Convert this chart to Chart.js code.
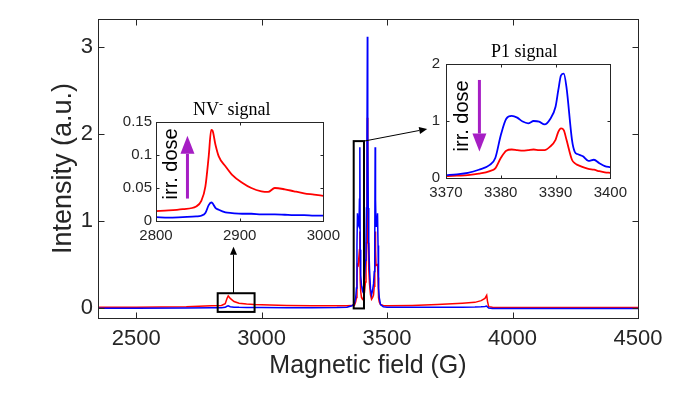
<!DOCTYPE html>
<html>
<head>
<meta charset="utf-8">
<title>EPR spectra</title>
<script src="https://cdn.jsdelivr.net/npm/chart.js@4.4.1/dist/chart.umd.min.js"></script>
<style>
  body { margin: 0; background: #fff; }
  #wrap { position: relative; width: 692px; height: 395px; overflow: hidden; }
  canvas { position: absolute; }
  #mainChart { left: 0; top: 0; }
  #nvChart { left: 96px; top: 92px; }
  #p1Chart { left: 386px; top: 34px; }
</style>
</head>
<body>
<div id="wrap">
  <canvas id="mainChart" width="692" height="395"></canvas>
  <canvas id="nvChart" width="250" height="160"></canvas>
  <canvas id="p1Chart" width="247" height="170"></canvas>
</div>
<script>
// ---------------------------------- { Data : full spectrum }
const fieldTicks = [2500, 3000, 3500, 4000, 4500];
const intensityTicks = [0, 1, 2, 3];
const mainField = [2348, 2500, 2700, 2800, 2840, 2855, 2862, 2867, 2875, 2890, 2910, 2940, 2970, 3000,
  3100, 3200, 3300, 3340, 3360, 3370, 3375, 3378, 3380, 3382, 3385, 3388, 3390, 3391.5, 3393, 3395,
  3398, 3402, 3406, 3410, 3414, 3416, 3418, 3420, 3421.5, 3423, 3425, 3427, 3430, 3434, 3438, 3442,
  3446, 3449, 3451, 3452.5, 3454, 3456, 3459, 3462, 3464, 3466, 3469, 3474, 3485, 3500, 3600, 3700,
  3800, 3850, 3875, 3890, 3897, 3900, 3905, 3920, 4000, 4200, 4500];
const mainRed = [0.01, 0.01, 0.015, 0.025, 0.03, 0.05, 0.11, 0.14, 0.11, 0.075, 0.055, 0.045, 0.04, 0.037,
  0.03, 0.025, 0.025, 0.025, 0.028, 0.03, 0.07, 0.12, 0.35, 0.5, 0.49, 0.49, 0.67, 0.88, 0.32, 0.19,
  0.12, 0.1, 0.12, 0.18, 0.3, 0.45, 0.75, 1.4, 2.19, 1.4, 0.75, 0.45, 0.28, 0.15, 0.1, 0.12,
  0.15, 0.25, 0.4, 0.88, 0.67, 0.49, 0.49, 0.5, 0.35, 0.12, 0.07, 0.04, 0.03, 0.025, 0.03, 0.04,
  0.055, 0.065, 0.085, 0.11, 0.146, 0.08, 0.015, 0.008, 0.006, 0.005, 0.005];
const mainBlue = [-0.003, -0.002, 0.0, 0.003, 0.004, 0.008, 0.02, 0.025, 0.015, 0.01, 0.008, 0.007, 0.006, 0.005,
  0.004, 0.004, 0.005, 0.01, 0.025, 0.05, 0.12, 0.23, 0.72, 1.09, 0.96, 0.94, 1.25, 1.85, 0.67, 0.38,
  0.26, 0.2, 0.24, 0.35, 0.55, 0.75, 1.15, 2.0, 3.12, 2.0, 1.15, 0.75, 0.45, 0.22, 0.15, 0.2,
  0.28, 0.42, 0.8, 1.85, 1.25, 0.94, 0.96, 1.09, 0.72, 0.23, 0.12, 0.04, 0.015, 0.01, 0.008, 0.008,
  0.01, 0.012, 0.015, 0.018, 0.022, 0.012, 0.0, -0.005, -0.005, -0.005, -0.006];

// ---------------------------------- { Data : NV- inset }
const nvFieldTicks = [2800, 2900, 3000];
const nvIntTicks = [0, 0.05, 0.1, 0.15];
const nvField = [2800, 2815, 2832, 2848, 2854, 2859, 2863, 2866, 2867.5, 2871, 2875, 2883, 2891, 2903,
  2914, 2926, 2934, 2942, 2954, 2965, 2977, 2989, 3000];
const nvRed = [0.015, 0.016, 0.018, 0.022, 0.03, 0.052, 0.098, 0.138, 0.137, 0.116, 0.098, 0.083, 0.07, 0.058,
  0.05, 0.045, 0.044, 0.05, 0.048, 0.045, 0.042, 0.04, 0.038];
const nvBlue = [0.006, 0.005, 0.006, 0.007, 0.008, 0.012, 0.024, 0.028, 0.027, 0.02, 0.017, 0.013, 0.012, 0.011,
  0.011, 0.01, 0.01, 0.01, 0.0095, 0.009, 0.009, 0.008, 0.008];

// ---------------------------------- { Data : P1 inset }
const p1FieldTicks = [3370, 3380, 3390, 3400];
const p1IntTicks = [0, 1, 2];
const p1Field = [3370, 3372, 3374, 3376, 3378, 3379, 3380, 3381, 3382, 3383, 3384, 3385, 3386, 3387, 3388,
  3389, 3390, 3390.5, 3391, 3391.5, 3392, 3393, 3393.5, 3394, 3395, 3396, 3397, 3398, 3399, 3400];
const p1Red = [0.03, 0.04, 0.05, 0.075, 0.12, 0.17, 0.35, 0.48, 0.5, 0.49, 0.48, 0.49, 0.5, 0.49, 0.49,
  0.55, 0.67, 0.81, 0.87, 0.84, 0.67, 0.32, 0.26, 0.23, 0.19, 0.16, 0.145, 0.12, 0.1, 0.09];
const p1Blue = [0.05, 0.065, 0.09, 0.145, 0.23, 0.35, 0.75, 1.04, 1.09, 1.06, 0.99, 0.96, 1.0, 0.99, 0.94,
  1.03, 1.25, 1.54, 1.8, 1.83, 1.59, 0.67, 0.46, 0.42, 0.38, 0.3, 0.32, 0.26, 0.21, 0.19];

// zoom boxes / pointers, in field (G) and intensity units
const nvBoxField = [2825, 2972];
const nvBoxInt = [-0.045, 0.17];
const p1BoxField = [3367, 3408];
const p1BoxInt = [-0.005, 1.92];
const nvPointerField = [2888, 2888];
const nvPointerInt = [0.17, 0.705];
const p1PointerField = [3408, 3660];
const p1PointerInt = [1.92, 2.06];
// "irr. dose" arrows (tail -> tip) and label centres, in inset units
const nvDoseField = [2837.6, 2837.6];
const nvDoseInt = [0.034, 0.129];
const nvDoseLabel = [2818.5, 0.0866];
const p1DoseField = [3376.1, 3376.1];
const p1DoseInt = [1.72, 0.465];
const p1DoseLabel = [3373.1, 1.09];

const RED = "#ff0000";
const BLUE = "#0000ff";
const PURPLE = "rgb(166, 30, 196)";
const INK = "#262626";
const SANS = "'Liberation Sans', Arial, Helvetica, sans-serif";
const SERIF = "'Liberation Serif', 'Times New Roman', serif";

const toPoints = (xs, ys) => xs.map((x, i) => ({ x: x, y: ys[i] }));

function drawArrow(ctx, x0, y0, x1, y1, head, half, width, color) {
  const ang = Math.atan2(y1 - y0, x1 - x0);
  const bx = x1 - head * Math.cos(ang);
  const by = y1 - head * Math.sin(ang);
  ctx.strokeStyle = color;
  ctx.fillStyle = color;
  ctx.lineWidth = width;
  ctx.beginPath();
  ctx.moveTo(x0, y0);
  ctx.lineTo(bx, by);
  ctx.stroke();
  ctx.beginPath();
  ctx.moveTo(x1, y1);
  ctx.lineTo(bx + half * Math.sin(ang), by - half * Math.cos(ang));
  ctx.lineTo(bx - half * Math.sin(ang), by + half * Math.cos(ang));
  ctx.closePath();
  ctx.fill();
}

// Box frame + inward ticks on all four sides (matlab style) ---------- { Frame }
const frameTicks = {
  id: "frameTicks",
  afterDatasetsDraw(chart, args, opts) {
    const { ctx, chartArea: a, scales: { x, y } } = chart;
    const len = opts.len || 5;
    const L = Math.round(a.left) + 0.5, R = Math.round(a.right) + 0.5;
    const T = Math.round(a.top) + 0.5, B = Math.round(a.bottom) + 0.5;
    ctx.save();
    ctx.strokeStyle = INK;
    ctx.lineWidth = 1;
    ctx.beginPath();
    x.ticks.forEach((t) => {
      const px = Math.round(x.getPixelForValue(t.value)) + 0.5;
      ctx.moveTo(px, B); ctx.lineTo(px, B - len);
      ctx.moveTo(px, T); ctx.lineTo(px, T + len);
    });
    y.ticks.forEach((t) => {
      const py = Math.round(y.getPixelForValue(t.value)) + 0.5;
      ctx.moveTo(L, py); ctx.lineTo(L + len, py);
      ctx.moveTo(R, py); ctx.lineTo(R - len, py);
    });
    ctx.stroke();
    ctx.strokeRect(L, T, R - L, B - T);
    ctx.restore();
  },
};

// Zoom boxes and pointer arrows on the full spectrum ---------- { Marks }
const zoomMarks = {
  id: "zoomMarks",
  afterDatasetsDraw(chart) {
    const { ctx, scales: { x, y } } = chart;
    ctx.save();
    ctx.strokeStyle = "#000";
    ctx.lineWidth = 2;
    [[nvBoxField, nvBoxInt], [p1BoxField, p1BoxInt]].forEach(([f, v]) => {
      const x0 = x.getPixelForValue(f[0]);
      const x1 = x.getPixelForValue(f[1]);
      const y0 = y.getPixelForValue(v[0]);
      const y1 = y.getPixelForValue(v[1]);
      ctx.strokeRect(x0, y1, x1 - x0, y0 - y1);
    });
    [[nvPointerField, nvPointerInt], [p1PointerField, p1PointerInt]].forEach(([f, v]) => {
      drawArrow(ctx, x.getPixelForValue(f[0]), y.getPixelForValue(v[0]),
        x.getPixelForValue(f[1]), y.getPixelForValue(v[1]), 8, 3.5, 1, "#000");
    });
    ctx.restore();
  },
};

// Inset title, dose arrow and label ---------- { Inset decor }
const insetDecor = {
  id: "insetDecor",
  afterDatasetsDraw(chart, args, o) {
    const { ctx, chartArea: a, scales: { x, y } } = chart;
    ctx.save();
    // title
    ctx.fillStyle = "#000";
    ctx.textBaseline = "alphabetic";
    ctx.textAlign = "left";
    ctx.font = "18px " + SERIF;
    const w1 = ctx.measureText(o.title).width;
    const w3 = ctx.measureText(o.rest).width;
    ctx.font = "12px " + SERIF;
    const w2 = o.sup ? ctx.measureText(o.sup).width : 0;
    let tx = (a.left + a.right) / 2 + o.titleShift - (w1 + w2 + w3) / 2;
    const ty = a.top - 7;
    ctx.font = "18px " + SERIF;
    ctx.fillText(o.title, tx, ty);
    tx += w1;
    if (o.sup) {
      ctx.font = "12px " + SERIF;
      ctx.fillText(o.sup, tx, ty - 7);
      tx += w2;
    }
    ctx.font = "18px " + SERIF;
    ctx.fillText(o.rest, tx, ty);
    // irr. dose arrow
    drawArrow(ctx, x.getPixelForValue(o.doseField[0]), y.getPixelForValue(o.doseInt[0]),
      x.getPixelForValue(o.doseField[1]), y.getPixelForValue(o.doseInt[1]), 18, 7, 3, PURPLE);
    // irr. dose label
    ctx.translate(x.getPixelForValue(o.label[0]), y.getPixelForValue(o.label[1]));
    ctx.rotate(-Math.PI / 2);
    ctx.fillStyle = "#000";
    ctx.font = "20px " + SANS;
    ctx.textAlign = "center";
    ctx.textBaseline = "middle";
    ctx.fillText("irr. dose", 0, 0);
    ctx.restore();
  },
};

function axis(min, max, tickValues, size, fontSize, pad, extra) {
  return Object.assign({
    type: "linear",
    min: min,
    max: max,
    afterBuildTicks: (s) => { s.ticks = tickValues.map((v) => ({ value: v })); },
    afterFit: (s) => { if (s.isHorizontal()) s.height = size; else s.width = size; },
    grid: { display: false, drawTicks: false },
    border: { display: false },
    ticks: {
      color: INK,
      padding: pad,
      autoSkip: false,
      maxRotation: 0,
      font: { family: SANS, size: fontSize },
      callback: (v) => String(v),
    },
  }, extra || {});
}

function spectrum(field, red, blue, width, smooth) {
  const line = { pointRadius: 0, borderWidth: width, fill: false, tension: 0 };
  if (smooth) line.cubicInterpolationMode = "monotone";
  return [
    Object.assign({ data: toPoints(field, blue), borderColor: BLUE }, line),
    Object.assign({ data: toPoints(field, red), borderColor: RED }, line),
  ];
}

const commonPlugins = { legend: { display: false }, tooltip: { enabled: false } };

// ---------------------------------- { Main chart }
new Chart(document.getElementById("mainChart"), {
  type: "line",
  data: { datasets: spectrum(mainField, mainRed, mainBlue, 1.5, false) },
  options: {
    responsive: false,
    animation: false,
    layout: { padding: { top: 19, right: 54, left: 0, bottom: 0 } },
    plugins: Object.assign({ frameTicks: { len: 6 } }, commonPlugins),
    scales: {
      x: axis(2348, 4500, fieldTicks, 77, 22, 8, {
        title: { display: true, text: "Magnetic field (G)", color: INK,
          font: { family: SANS, size: 25 }, padding: { top: 0, bottom: 14 } },
      }),
      y: axis(-0.115, 3.325, intensityTicks, 98, 22, 5, {
        title: { display: true, text: "Intensity (a.u.)", color: INK,
          font: { family: SANS, size: 27 }, padding: { top: 47, bottom: 0 } },
      }),
    },
  },
  plugins: [frameTicks, zoomMarks],
});

// ---------------------------------- { Insets }
function insetChart(id, s) {
  return new Chart(document.getElementById(id), {
    type: "line",
    data: { datasets: spectrum(s.field, s.red, s.blue, 1.8, true) },
    options: {
      responsive: false,
      animation: false,
      layout: { padding: { top: 30, right: 20, left: 0, bottom: 0 } },
      plugins: Object.assign({ frameTicks: { len: 3 }, insetDecor: s.decor }, commonPlugins),
      scales: {
        x: axis(s.xRange[0], s.xRange[1], s.xTicks, s.xHeight, 15, 6),
        y: axis(s.yRange[0], s.yRange[1], s.yTicks, 60, 15, s.yPad),
      },
    },
    plugins: [frameTicks, insetDecor],
  });
}

insetChart("nvChart", {
  field: nvField, red: nvRed, blue: nvBlue,
  xRange: [2800, 3000], xTicks: nvFieldTicks, xHeight: 31,
  yRange: [0, 0.15], yTicks: nvIntTicks, yPad: 4,
  decor: { title: "NV", sup: "-", rest: " signal", titleShift: -8,
    doseField: nvDoseField, doseInt: nvDoseInt, label: nvDoseLabel },
});

insetChart("p1Chart", {
  field: p1Field, red: p1Red, blue: p1Blue,
  xRange: [3370, 3400], xTicks: p1FieldTicks, xHeight: 26,
  yRange: [0, 2], yTicks: p1IntTicks, yPad: 6,
  decor: { title: "P1 signal", sup: "", rest: "", titleShift: -4,
    doseField: p1DoseField, doseInt: p1DoseInt, label: p1DoseLabel },
});
</script>
</body>
</html>
